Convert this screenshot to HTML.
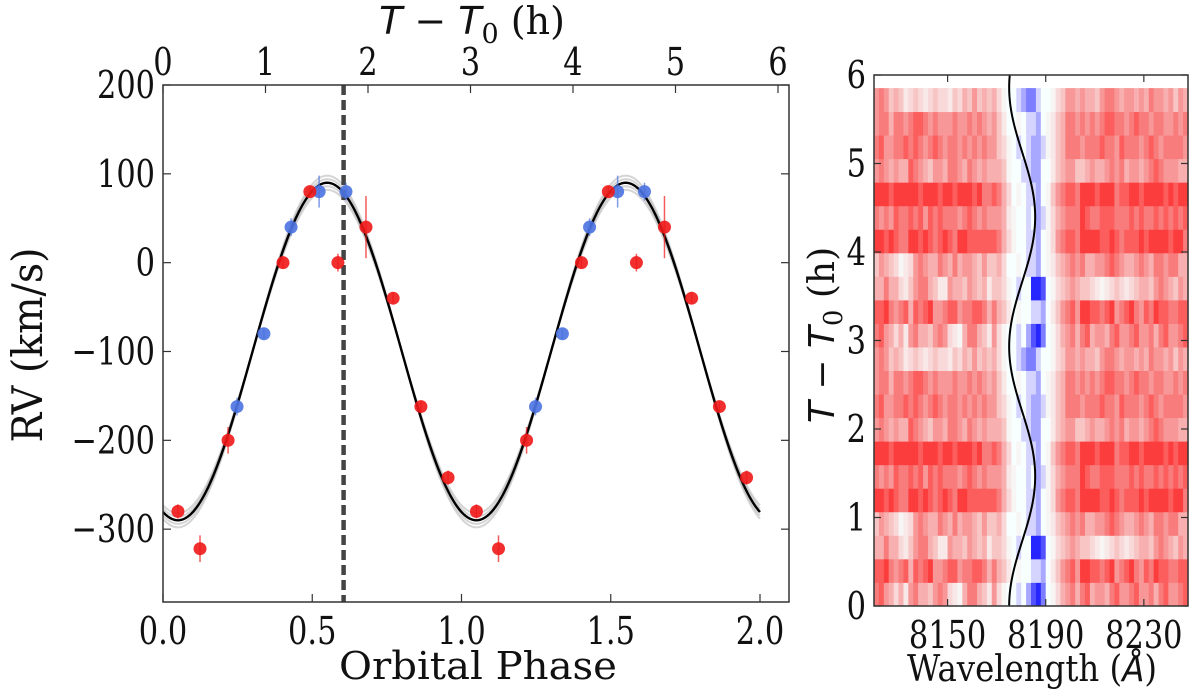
<!DOCTYPE html>
<html><head><meta charset="utf-8"><style>
html,body{margin:0;padding:0;background:#fff;}
svg{display:block;font-family:"DejaVu Serif","Liberation Serif",serif;}
</style></head><body>
<svg id="fig" width="1200" height="697" viewBox="0 0 1200 697" xmlns="http://www.w3.org/2000/svg">
<g id="left"></g>
<g id="right"></g>
</svg>
<script>
// ---- Left panel data ----
const redPhase = [0.05,0.124,0.218,0.402,0.492,0.586,0.68,0.771,0.864,0.955];
const redRV    = [-280,-322,-200,0,80,0,40,-40,-162,-242];
const redErr   = [8,15,15,6,6,10,35,6,6,8];
const bluePhase = [0.248,0.338,0.429,0.523,0.613];
const blueRV    = [-162,-80,40,80,80];
const blueErr   = [10,6,10,18,10];
const phaseTicks = [0,0.5,1.0,1.5,2.0];
const phaseTickLabels = ["0.0","0.5","1.0","1.5","2.0"];
const rvTicks = [200,100,0,-100,-200,-300];
const rvTickLabels = ["200","100","0","\u2212100","\u2212200","\u2212300"];
const hourTicks = [0,1,2,3,4,5,6];
const modelGamma = -100, modelK = 190, modelPhi0 = 0.05;
const dashedPhase = 0.605;
// ---- Right panel data ----
const wlTicks = [8150,8190,8230];
const tTicks = [0,1,2,3,4,5,6];
const rowHeightH = 0.266;
const heatRows = [
 "7865352675546763215775426"+"3100a0bdec013567"+"57856657866786675786678",
 "8897678587896678867788757"+"5420100aab024678"+"69988789678976879887788",
 "5575532467754226554654524"+"4310a00eed013456"+"54432123432345546765465",
 "4654312367655765756654644"+"530010aab0124567"+"67556678765567657767755",
 "9989877998987898799888888"+"753100aab0136788"+"79999889878889899998997",
 "7676877878687877767876766"+"652100a0ba135677"+"79877888777878778787878",
 "9998999998999899899989778"+"753010aab0146788"+"79998999788998999989899",
 "6765655876546657765765655"+"54100aabb0024566"+"44565567675665678766655",
 "7866778787678767767676766"+"4310a0abba124577"+"76777877687776787677776",
 "6775776788767666766767656"+"420010aab0124577"+"67676788776787767766767",
 "6764542343234332435464545"+"3100abcca0013466"+"56554677656656576656465"
];
const lineCenter = 8180.4, lineAmp = 5.3, periodH = 2.93;

const NS="http://www.w3.org/2000/svg";
function mk(tag, attrs, parent){const e=document.createElementNS(NS,tag);for(const k in attrs)e.setAttribute(k,attrs[k]);parent.appendChild(e);return e;}
function squeeze(t,f){const w=t.getComputedTextLength();if(w>0){t.setAttribute('textLength',(w*f).toFixed(1));t.setAttribute('lengthAdjust','spacingAndGlyphs');}}

const L={x0:163,x1:789,y0:85,y1:602};
const px=p=>L.x0+p*298.5;
const py=v=>L.y0+(200-v)*(L.y1-L.y0)/582;
const ph=h=>L.x0+h*102.5;
const lg=document.getElementById('left');

function modelPath(dk){let d="";for(let i=0;i<=400;i++){const p=i/200;const v=modelGamma-(modelK+dk)*Math.cos(2*Math.PI*(p-modelPhi0));d+=(i?"L":"M")+px(p).toFixed(2)+","+py(v).toFixed(2);}return d;}
[-8,-4,4,8].forEach(dk=>{const e=mk('path',{d:modelPath(dk),fill:'none',stroke:'#888','stroke-width':2,opacity:0.35},lg);

});
const mc=mk('path',{d:modelPath(0),fill:'none',stroke:'#000','stroke-width':2.4},lg);



const dl=mk('line',{x1:px(dashedPhase),x2:px(dashedPhase),y1:L.y0,y2:L.y1,stroke:'#444','stroke-width':4.5,'stroke-dasharray':'10,5'},lg);



function points(ph0,rv,err,color,name){
  for(let rep=0;rep<2;rep++){for(let i=0;i<ph0.length;i++){
    const x=px(ph0[i]+rep),y=py(rv[i]);
    const eb=mk('line',{x1:x,x2:x,y1:py(rv[i]+err[i]),y2:py(rv[i]-err[i]),stroke:color,'stroke-width':1.5,opacity:0.7},lg);
    
    
    const c=mk('circle',{cx:x,cy:y,r:6.5,fill:color,opacity:0.9},lg);
    
    
  }}
}
points(bluePhase,blueRV,blueErr,'#4a72e0','blue-rv');
points(redPhase,redRV,redErr,'#f01818','red-rv');

const fr=mk('rect',{x:L.x0,y:L.y0,width:L.x1-L.x0,height:L.y1-L.y0,fill:'none',stroke:'#333','stroke-width':1.5},lg);



const TF=0.8, TS=38;
phaseTicks.forEach((p,i)=>{const x=px(p);
 mk('line',{x1:x,x2:x,y1:L.y1,y2:L.y1-8,stroke:'#333','stroke-width':1.2},lg);
 const t=mk('text',{x:x,y:L.y1+42,'font-size':TS,'text-anchor':'middle',fill:'#111'},lg);t.textContent=phaseTickLabels[i];squeeze(t,TF);
 
 });
hourTicks.forEach(h=>{const x=ph(h);
 mk('line',{x1:x,x2:x,y1:L.y0,y2:L.y0+8,stroke:'#333','stroke-width':1.2},lg);
 const t=mk('text',{x:x,y:L.y0-10,'font-size':TS,'text-anchor':'middle',fill:'#111'},lg);t.textContent=String(h);squeeze(t,TF);
 
 });
rvTicks.forEach((v,i)=>{const y=py(v);
 mk('line',{x1:L.x0,x2:L.x0+8,y1:y,y2:y,stroke:'#333','stroke-width':1.2},lg);
 mk('line',{x1:L.x1,x2:L.x1-8,y1:y,y2:y,stroke:'#333','stroke-width':1.2},lg);
 const t=mk('text',{x:L.x0-8,y:y+13,'font-size':TS,'text-anchor':'end',fill:'#111'},lg);t.textContent=rvTickLabels[i];squeeze(t,TF);
 
 });

lg.insertAdjacentHTML('beforeend',
 '<text x="478" y="679" font-size="38" text-anchor="middle" fill="#111" textLength="278" lengthAdjust="spacingAndGlyphs">Orbital Phase</text>'+
 '<text x="472" y="34" font-size="38" text-anchor="middle" fill="#111"><tspan font-style="italic" font-family="DejaVu Sans">T</tspan> \u2212 <tspan font-style="italic" font-family="DejaVu Sans">T</tspan><tspan font-size="27" dy="9">0</tspan><tspan dy="-9"> (h)</tspan></text>'+
 '<text transform="translate(42,345) rotate(-90)" font-size="42" text-anchor="middle" fill="#111" textLength="195" lengthAdjust="spacingAndGlyphs">RV (km/s)</text>');
</script>
<script>
const R={x0:874,x1:1188,y0:75,y1:606};
const wx=l=>R.x0+(l-8120)*(R.x1-R.x0)/128;
const ty=t=>R.y1-t*(R.y1-R.y0)/6;
const rg=document.getElementById('right');
function cellColor(ch){
  if(ch>='0'&&ch<='9'){const s=(+ch)/10;const g=Math.round(255*(1-s*s*0.55-s*0.35));return `rgb(${ch>='8'?252:248},${g},${g})`;}
  const s=(ch.charCodeAt(0)-96)/5;const g=Math.round(255*(1-s*0.85));return `rgb(${g},${g},255)`;
}
const nRows=22;
for(let r=0;r<nRows;r++){
  const row=heatRows[r%heatRows.length];
  const t0=r*rowHeightH,t1=(r+1)*rowHeightH;
  for(let c=0;c<row.length;c++){
    const l0=8120+c*2,l1=l0+2;
    const e=mk('rect',{x:wx(l0),y:ty(t1),width:wx(l1)-wx(l0)+0.6,height:ty(t0)-ty(t1)+0.4,fill:cellColor(row[c])},rg);
    
    
  }
}
let d="";for(let i=0;i<=300;i++){const t=i/50;const l=lineCenter-lineAmp*Math.cos(2*Math.PI*t/periodH);d+=(i?"L":"M")+wx(l).toFixed(2)+","+ty(t).toFixed(2);}
const rc=mk('path',{d:d,fill:'none',stroke:'#000','stroke-width':2},rg);


const rf=mk('rect',{x:R.x0,y:R.y0,width:R.x1-R.x0,height:R.y1-R.y0,fill:'none',stroke:'#333','stroke-width':1.5},rg);


wlTicks.forEach(w=>{const x=wx(w);
 mk('line',{x1:x,x2:x,y1:R.y1,y2:R.y1-7,stroke:'#333','stroke-width':1.2},rg);
 mk('line',{x1:x,x2:x,y1:R.y0,y2:R.y0+7,stroke:'#333','stroke-width':1.2},rg);
 const t=mk('text',{x:x,y:R.y1+42,'font-size':TS,'text-anchor':'middle',fill:'#111'},rg);t.textContent=String(w);squeeze(t,TF);
 
 });
tTicks.forEach(h=>{const y=ty(h);
 mk('line',{x1:R.x0,x2:R.x0+7,y1:y,y2:y,stroke:'#333','stroke-width':1.2},rg);
 mk('line',{x1:R.x1,x2:R.x1-7,y1:y,y2:y,stroke:'#333','stroke-width':1.2},rg);
 const t=mk('text',{x:R.x0-8,y:y+13,'font-size':TS,'text-anchor':'end',fill:'#111'},rg);t.textContent=String(h);squeeze(t,TF);
 
 });
rg.insertAdjacentHTML('beforeend',
 '<text x="1032" y="681" font-size="36" text-anchor="middle" fill="#111" textLength="250" lengthAdjust="spacingAndGlyphs">Wavelength (<tspan font-style="italic" font-family="DejaVu Sans">Å</tspan>)</text>'+
 '<text transform="translate(834,335) rotate(-90)" font-size="36" text-anchor="middle" fill="#111"><tspan font-style="italic" font-family="DejaVu Sans">T</tspan> \u2212 <tspan font-style="italic" font-family="DejaVu Sans">T</tspan><tspan font-size="26" dy="8">0</tspan><tspan dy="-8"> (h)</tspan></text>');
</script>
</body></html>
